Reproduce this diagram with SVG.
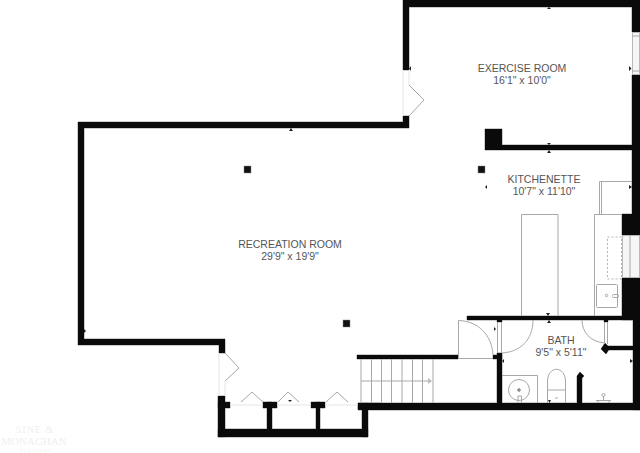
<svg xmlns="http://www.w3.org/2000/svg" width="640" height="453" viewBox="0 0 640 453">
<style>
.w{fill:#0a0a0a}
.h{fill:#999;stroke:#999;stroke-width:1}
.f{fill:none;stroke:#a8a8a8;stroke-width:1}
.l{fill:none;stroke:#e4e4e4;stroke-width:1}
.o{fill:#f6f6f6;stroke:#b8b8b8;stroke-width:1}
.t{font-family:"Liberation Sans",Arial,sans-serif;font-size:10.5px;fill:#555;text-anchor:middle}
.m{font-family:"Liberation Serif",serif;fill:#efefef;text-anchor:middle}
.k{fill:#111;stroke:#888;stroke-width:.5}
.a{fill:#222}
</style>
<defs>
<path id="ws" d="M403 0H640V7H409V70H403Z
M632 0H640V32H632Z
M632 75H640V214H632Z
M622 214H640V235H622Z
M622 278H640V320H622Z
M403 116H409V128H84V339H225V353H219V345H78V122H403Z
M485 129H502V145H632V150H485Z
M467 316H640V320H467Z
M633 316H640V410H633Z
M358 403H640V410H358Z
M218 396H225V437H218Z
M218 429H368V437H218Z
M267 402H272V429H267Z
M316 402H320V429H316Z
M362 403H368V437H362Z
M218 402H230V408H218Z
M263 402H277V408H263Z
M311 402H325V408H311Z
M358 403H380V409H358Z
M357 355H458V359H357Z
M493 355H502V359H493Z
M497 353H502V403H497Z
M497 318H502V322H497Z
M604 318H608V322H604Z
M605 346H633V350H605Z
M605 343L610 348L606 354L601 349Z
M577 403V376L580 372L584 376L582 378V403Z"/>
</defs>
<rect width="640" height="453" fill="#fff"/>
<g id="walls">
<use href="#ws" class="h"/>
<use href="#ws" class="w"/>
</g>
<g id="windows">
<rect class="o" x="632.500" y="32.500" width="7" height="42"/>
<path class="f" d="M632 36H640M632 71H640"/>
<rect class="o" x="622.500" y="235.500" width="17" height="42"/>
<path class="f" d="M630 235V278"/>
</g>
<g id="doors">
<path class="l" d="M403 70V116M409 70V85M219 353V396M225 381V396M230 405H263M277 405H311M325 405H358"/>
<path class="f" d="M409 85L424 100L409 116"/>
<path class="f" d="M225 353L239 368L225 381"/>
<path class="f" d="M241 402L252 392L263 402M278 402L288 392L299 402M326 402L337 392L348 402"/>
<path class="f" d="M493 355C492 335 478 321 458.500 320.500V358.500H493"/>
<path class="f" d="M497.500 322V353M501.500 322V353M502 353C520 352 533 340 533 320"/>
<path class="f" d="M604.500 322V344M607.500 322V344M605 343C590 342 582 332 582 320"/>
</g>
<g id="stairs">
<path class="f" d="M361 359V403M371.500 359V403M381.500 359V403M391.500 359V403M402 359V403M412.500 359V403M422.500 359V403M433 359V403M361 381H429"/>
<path d="M428 378L432 381L428 384Z" fill="#bbb"/>
</g>
<g id="fixtures">
<path class="f" d="M521.500 316V214.500H558V316"/>
<path class="f" d="M594.500 316V214.500H622"/>
<path class="f" d="M599.500 214V181.500H632M601.500 214V181.500"/>
<rect x="607.500" y="237" width="14" height="42" fill="none" stroke="#b5b5b5" stroke-dasharray="2 2"/>
<rect class="f" x="596.500" y="284.500" width="21" height="23" rx="1"/>
<circle class="f" cx="606.500" cy="295.500" r="1.200"/>
<rect class="f" x="612.500" y="294.500" width="6" height="3" rx="1"/>
<path class="f" d="M502 375.500H537.500V403"/>
<circle class="f" cx="519" cy="390" r="10.500"/>
<circle cx="519" cy="390" r="1.200" fill="none" stroke="#555"/>
<path class="f" d="M518 403V396H521.500V403"/>
<path class="f" d="M547.500 403V382C547.500 365 565.500 365 565.500 382V403M547.500 390H565.500"/>
<path d="M555 398H558" stroke="#aaa" fill="none"/>
<path class="f" d="M596 400.500H611M603.500 400V396M598 400V403M609 400V403"/>
<circle class="f" cx="603.500" cy="395" r="1.500"/>
</g>
<g id="pillars" class="k">
<rect x="244" y="166" width="7" height="7"/>
<rect x="478" y="166" width="7" height="7"/>
<rect x="343" y="320" width="7" height="7"/>
</g>
<g id="ticks" class="a">
<path d="M547 9L549 7L551 9Z"/>
<path d="M547 143L551 143L549 145ZM547 153L551 153L549 150Z"/>
<path d="M411 66L409 68.500L411 71Z"/>
<path d="M629 66L631.500 68.500L629 71Z"/>
<path d="M289 131L291 128L293 131Z"/>
<path d="M84 329L86 331L84 333Z"/>
<path d="M487 185L485 187L487 189Z"/>
<path d="M629 185L632 187L629 189Z"/>
<path d="M546 313L550 313L548 316Z"/>
<path d="M547 323L551 323L549 320Z"/>
<path d="M504 359L502 361L504 363Z"/>
<path d="M630 359L633 361L630 363Z"/>
<path d="M494 327L496 329L494 331Z"/>
<path d="M548 400L551 400L549.500 403Z"/>
<path d="M288 400L292 400L290 402Z"/>
</g>
<g id="recreation-room"><text class="t" x="290" y="248">RECREATION ROOM</text><text class="t" x="290" y="260">29'9" x 19'9"</text></g>
<g id="exercise-room"><text class="t" x="522" y="72">EXERCISE ROOM</text><text class="t" x="522" y="84">16'1" x 10'0"</text></g>
<g id="kitchenette"><text class="t" x="544" y="183">KITCHENETTE</text><text class="t" x="544" y="195">10'7" x 11'10"</text></g>
<g id="bath"><text class="t" x="561" y="344">BATH</text><text class="t" x="561" y="356">9'5" x 5'11"</text></g>
<g id="watermark"><text class="m" x="35" y="433" font-size="10" letter-spacing="1">SINE &amp;</text><text class="m" x="34" y="445" font-size="11">MONAGHAN</text><text class="m" x="36" y="452" font-size="4" letter-spacing="1.500">REALTORS</text></g>
</svg>
